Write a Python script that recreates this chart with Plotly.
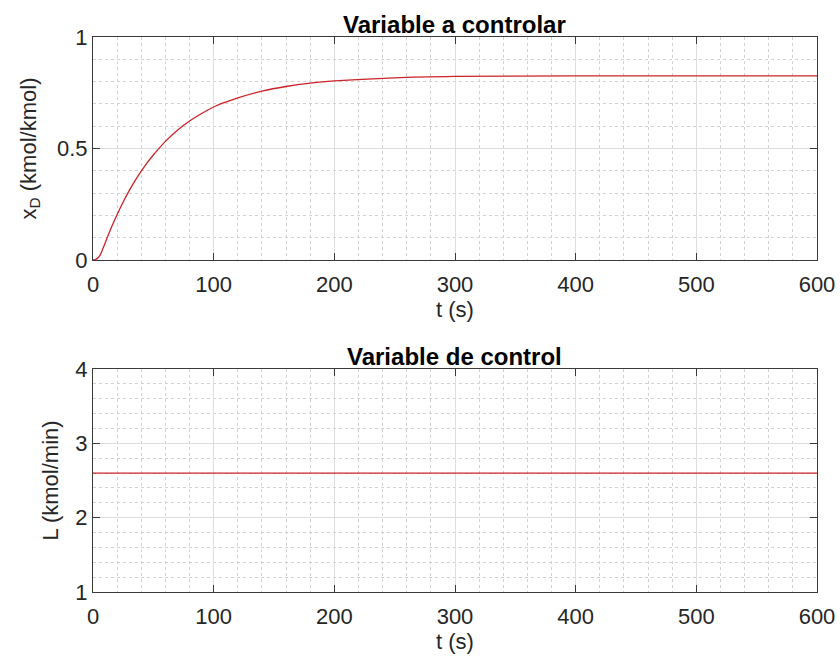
import plotly.graph_objects as go

# Data
t_top = [0, 2, 4, 6, 8, 10, 15, 20, 25, 30, 35, 40, 45, 50, 60, 70, 80, 90, 100,
         110, 120, 140, 160, 180, 200, 250, 300, 400, 600]
xD = [0.0, 0.002, 0.009, 0.023, 0.048, 0.075, 0.143, 0.204, 0.26, 0.311, 0.357,
      0.399, 0.437, 0.471, 0.532, 0.582, 0.623, 0.657, 0.686, 0.708, 0.727, 0.757,
      0.778, 0.793, 0.803, 0.817, 0.823, 0.826, 0.826]
t_bot = [0, 600]
L = [2.6, 2.6]

x_ticks = [0, 100, 200, 300, 400, 500, 600]
y1_ticks = [0, 0.5, 1]
y1_ticklabels = ["0", "0.5", "1"]
y2_ticks = [1, 2, 3, 4]

title_top = "<b>Variable a controlar</b>"
title_bot = "<b>Variable de control</b>"
xlabel = "t (s)"
ylabel_top = "x<sub>D</sub> (kmol/kmol)"
ylabel_bot = "L (kmol/min)"

W, H = 840, 664
FONT = "Liberation Sans, Arial, sans-serif"
TXT = "#262626"
AX = "#3a3a3a"
RED = "#cc2229"
GRID = "#dedede"
MINOR = "#d2d2d2"

# pixel layout
x0, x1 = 93, 817
top_y0, top_y1 = 37, 260
bot_y0, bot_y1 = 369, 592

def py(p):
    return (H - p) / H

fig = go.Figure()
fig.add_trace(go.Scatter(x=t_top, y=xD, mode="lines",
                         line=dict(color=RED, width=1.3, shape="spline", smoothing=1.0),
                         xaxis="x", yaxis="y", showlegend=False, hoverinfo="skip"))
fig.add_trace(go.Scatter(x=t_bot, y=L, mode="lines", line=dict(color=RED, width=1.3),
                         xaxis="x2", yaxis="y2", showlegend=False, hoverinfo="skip"))

def xaxis(anchor):
    return dict(
        domain=[x0 / W, x1 / W], anchor=anchor, range=[0, 600], automargin=False,
        tickvals=x_ticks, ticks="inside", ticklen=7, tickcolor=AX,
        showline=True, linecolor=AX, linewidth=1, mirror="ticks",
        showgrid=True, gridcolor=GRID, gridwidth=1, zeroline=False,
        minor=dict(dtick=20, showgrid=True, gridcolor=MINOR, griddash="dot", gridwidth=1, ticks=""),
        tickfont=dict(family=FONT, size=22, color=TXT), ticklabelstandoff=5,
        title=dict(text=xlabel, font=dict(family=FONT, size=22, color=TXT), standoff=5),
        fixedrange=True,
    )

def yaxis(anchor, py0, py1, rng, tv, tt, minor_dt, label, so):
    return dict(
        domain=[py(py1), py(py0)], anchor=anchor, range=rng, automargin=False,
        tickvals=tv, ticktext=tt, ticks="inside", ticklen=7, tickcolor=AX,
        showline=True, linecolor=AX, linewidth=1, mirror="ticks",
        showgrid=True, gridcolor=GRID, gridwidth=1, zeroline=False,
        minor=dict(dtick=minor_dt, tick0=rng[0], showgrid=True, gridcolor=MINOR, griddash="dot", gridwidth=1, ticks=""),
        tickfont=dict(family=FONT, size=22, color=TXT),
        title=dict(text=label, font=dict(family=FONT, size=22, color=TXT), standoff=so),
        fixedrange=True,
    )

fig.update_layout(
    width=W, height=H,
    margin=dict(l=0, r=0, t=0, b=0),
    paper_bgcolor="white", plot_bgcolor="white",
    xaxis=xaxis("y"),
    yaxis=yaxis("x", top_y0, top_y1, [0, 1], y1_ticks, y1_ticklabels, 0.1, ylabel_top, 14),
    xaxis2=xaxis("y2"),
    yaxis2=yaxis("x2", bot_y0, bot_y1, [1, 4], y2_ticks, [str(v) for v in y2_ticks], 0.2, ylabel_bot, 10),
    annotations=[
        dict(text=title_top, x=(x0 + x1) / 2 / W, y=py(top_y0), xref="paper", yref="paper",
             xanchor="center", yanchor="bottom", showarrow=False, yshift=-3,
             font=dict(family=FONT, size=24, color="black")),
        dict(text=title_bot, x=(x0 + x1) / 2 / W, y=py(bot_y0), xref="paper", yref="paper",
             xanchor="center", yanchor="bottom", showarrow=False, yshift=-3,
             font=dict(family=FONT, size=24, color="black")),
    ],
)

fig.write_html("out.html")
